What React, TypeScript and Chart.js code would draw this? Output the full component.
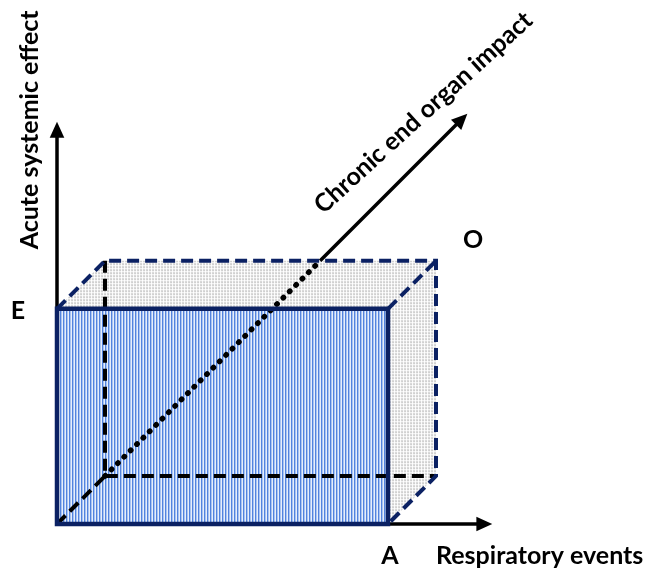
import React, { useEffect, useRef } from "react";
import { Chart, registerables } from "chart.js";

Chart.register(...registerables);

// Axis names (x: respiratory, y: acute, z: chronic)
const axisNames = ["Respiratory events", "Acute systemic effect", "Chronic end organ impact"];
// Corner labels of the box and their extent along each axis
const cornerLabels = ["A", "E", "O"];
const cornerValues = [10, 6.5, 2];
// Length of each axis arrow (x, y, z)
const axisLengths = [13.15, 12.15, 17.1];
// Oblique projection factor for the depth axis
const depthFactor = 0.725;

const NAVY = "#0b2163";
const BLACK = "#000000";

type P = { x: number; y: number };
const proj = (x: number, y: number, z: number): P => ({
  x: x + z * depthFactor,
  y: y + z * depthFactor,
});

function makePattern(cols: string[][]): CanvasPattern | string {
  const h = cols.length;
  const w = cols[0].length;
  const c = document.createElement("canvas");
  c.width = w;
  c.height = h;
  const g = c.getContext("2d");
  if (!g) return "#ccc";
  for (let j = 0; j < h; j++)
    for (let i = 0; i < w; i++) {
      g.fillStyle = cols[j][i];
      g.fillRect(i, j, 1, 1);
    }
  const ctx = document.createElement("canvas").getContext("2d");
  return (ctx && ctx.createPattern(c, "repeat")) || "#ccc";
}

export default function App() {
  const ref = useRef<HTMLCanvasElement>(null);

  useEffect(() => {
    if (!ref.current) return;
    const [A, E, O] = cornerValues;
    const [LX, LY, LZ] = axisLengths;

    const stripes = makePattern([["#5283de", "#a9c4f1", "#e6eefb"]]);
    const dots = makePattern([
      ["#cfcfcf", "#fafafa", "#d4d4d4"],
      ["#f2f2f2", "#ffffff", "#f2f2f2"],
      ["#dadada", "#fafafa", "#dadada"],
    ]);

    const line = (pts: P[], color: string, width: number, dash: number[] = [], cap: CanvasLineCap = "butt") => ({
      type: "scatter" as const,
      data: pts,
      showLine: true,
      borderColor: color,
      borderWidth: width,
      borderDash: dash,
      borderCapStyle: cap,
      borderJoinStyle: "miter" as const,
      pointRadius: 0,
      tension: 0,
      fill: false,
    });
    const poly = (pts: P[], fillStyle: any) => ({
      type: "scatter" as const,
      data: [...pts, pts[0]],
      showLine: true,
      borderWidth: 0,
      borderColor: "rgba(0,0,0,0)",
      backgroundColor: fillStyle,
      pointRadius: 0,
      tension: 0,
      fill: "shape",
    });

    // box corners
    const f00 = proj(0, 0, 0), fA0 = proj(A, 0, 0), fAE = proj(A, E, 0), f0E = proj(0, E, 0);
    const b00 = proj(0, 0, O), bA0 = proj(A, 0, O), bAE = proj(A, E, O), b0E = proj(0, E, O);

    // z where diagonal axis exits top back edge in projection
    const zExit = (E + O * depthFactor) / depthFactor;

    // arrowheads (in data units)
    const ah = 0.48, aw = 0.22;
    const arrowX = [proj(LX, 0, 0), { x: LX - ah, y: aw }, { x: LX - ah, y: -aw }];
    const arrowY = [proj(0, LY, 0), { x: -aw, y: LY - ah }, { x: aw, y: LY - ah }];
    const tip = proj(0, 0, LZ);
    const d = ah / Math.SQRT2, p = aw / Math.SQRT2;
    const arrowZ = [tip, { x: tip.x - d - p, y: tip.y - d + p }, { x: tip.x - d + p, y: tip.y - d - p }];

    // listed bottom-to-top; reversed via order because Chart.js paints the first dataset last
    const layers: any[] = [
      poly([f0E, b0E, bAE, bA0, fA0, f00], dots),
      poly([f00, fA0, fAE, f0E], stripes),
      // hidden (back) edges
      line([b0E, b00, bA0], BLACK, 4, [12, 6]),
      // depth axis: dashed inside, dotted behind, solid outside
      line([f00, b00], BLACK, 4, [12, 6]),
      line([b00, proj(0, 0, zExit)], BLACK, 5.5, [0.5, 8.5], "round"),
      line([proj(0, 0, zExit), proj(0, 0, LZ - 0.3)], BLACK, 3.5),
      // y axis and x axis
      line([f00, proj(0, LY - 0.3, 0)], BLACK, 3.5),
      line([fA0, proj(LX - 0.3, 0, 0)], BLACK, 3.5),
      poly(arrowX, BLACK),
      poly(arrowY, BLACK),
      poly(arrowZ, BLACK),
      // visible dashed navy edges
      line([f0E, b0E, bAE, bA0, fA0], NAVY, 4, [12, 6]),
      line([fAE, bAE], NAVY, 4, [12, 6]),
      // front face border
      line([f00, fA0, fAE, f0E, f00], NAVY, 4.5, [], "square"),
    ];
    const datasets = layers.map((ds, i) => ({ ...ds, order: layers.length - i }));

    const labelsPlugin = {
      id: "labels",
      afterDatasetsDraw(chart: any) {
        const { ctx, scales } = chart;
        const X = (v: number) => scales.x.getPixelForValue(v);
        const Y = (v: number) => scales.y.getPixelForValue(v);
        ctx.save();
        ctx.fillStyle = "#000";
        ctx.textBaseline = "middle";
        ctx.font = `bold 25px Lato, "Open Sans", sans-serif`;

        // corner labels
        ctx.textAlign = "center";
        ctx.fillText(cornerLabels[0], X(A) + 2, Y(0) + 32);
        ctx.fillText(cornerLabels[1], X(0) - 39, Y(E) + 2);
        ctx.fillText(cornerLabels[2], X(bAE.x) + 37, Y(bAE.y) - 21);

        // x axis name
        ctx.textAlign = "left";
        ctx.fillText(axisNames[0], X(A) + 48, Y(0) + 32);

        // y axis name (vertical)
        ctx.save();
        ctx.translate(X(0) - 27, Y(LY) + 8);
        ctx.rotate(-Math.PI / 2);
        ctx.textAlign = "center";
        ctx.fillText(axisNames[1], 0, 0);
        ctx.restore();

        // z axis name (diagonal)
        ctx.save();
        ctx.translate(X(tip.x) - 44, Y(tip.y) - 1);
        ctx.rotate(-0.74);
        ctx.textAlign = "center";
        ctx.fillText(axisNames[2], 0, 0);
        ctx.restore();
        ctx.restore();
      },
    };

    const unit = 33.1;
    const chart = new Chart(ref.current, {
      type: "scatter",
      data: { datasets },
      options: {
        animation: false,
        responsive: false,
        devicePixelRatio: 1,
        layout: { padding: 0 },
        plugins: { legend: { display: false }, tooltip: { enabled: false } },
        scales: {
          x: { type: "linear", display: false, min: -57 / unit, max: 591 / unit },
          y: { type: "linear", display: false, min: -48 / unit, max: 524 / unit },
        },
      },
      plugins: [labelsPlugin],
    } as any);
    return () => chart.destroy();
  }, []);

  return (
    <div style={{ position: "fixed", left: 0, top: 0, width: 648, height: 572, background: "#fff" }}>
      <canvas ref={ref} width={648} height={572} />
    </div>
  );
}
